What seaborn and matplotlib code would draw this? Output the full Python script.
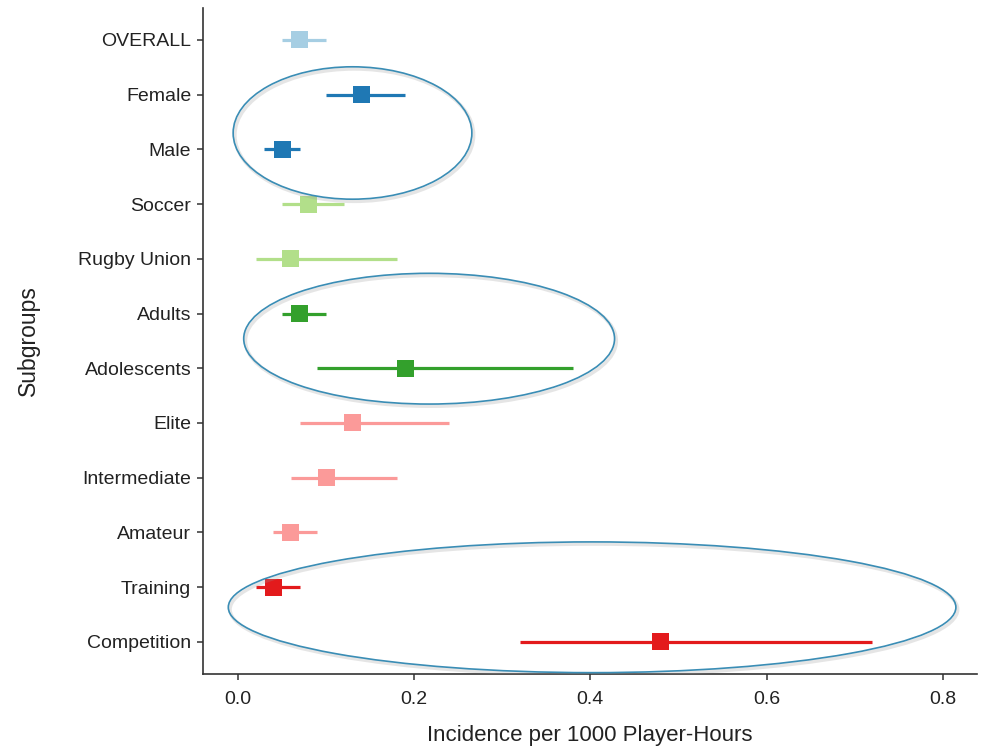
import matplotlib
matplotlib.use('Agg')
import matplotlib.pyplot as plt
from matplotlib.patches import Ellipse
import seaborn as sns
import pandas as pd
import numpy as np

subgroups = ['OVERALL', 'Female', 'Male', 'Soccer', 'Rugby Union', 'Adults',
             'Adolescents', 'Elite', 'Intermediate', 'Amateur', 'Training', 'Competition']
incidence = [0.07, 0.14, 0.05, 0.08, 0.06, 0.07, 0.19, 0.13, 0.10, 0.06, 0.04, 0.48]
ci_low = [0.05, 0.10, 0.03, 0.05, 0.02, 0.05, 0.09, 0.07, 0.06, 0.04, 0.02, 0.32]
ci_high = [0.10, 0.19, 0.07, 0.12, 0.18, 0.10, 0.38, 0.24, 0.18, 0.09, 0.07, 0.72]
grupo = ['Overall', 'Sex', 'Sex', 'Sport', 'Sport', 'Age', 'Age',
         'Level', 'Level', 'Level', 'Setting', 'Setting']
ordem_grupos = ['Overall', 'Sex', 'Sport', 'Age', 'Level', 'Setting']

# elipses de destaque (centro x, centro y, largura, altura) em unidades dos dados
elipses = [(0.130, 1.70, 0.271, 2.42),
           (0.217, 5.46, 0.421, 2.39),
           (0.402, 10.37, 0.826, 2.39)]

df = pd.DataFrame({'Subgroup': subgroups, 'Incidence': incidence,
                   'Low': ci_low, 'High': ci_high, 'Grupo': grupo})
df['pos'] = np.arange(len(df))

paleta = dict(zip(ordem_grupos, sns.color_palette('Paired', 6)))
cinza_escuro = '#333333'

sns.set_theme(style='ticks')
plt.rcParams['font.family'] = ['Liberation Sans', 'DejaVu Sans']

fig = plt.figure(figsize=(9.86, 7.5), dpi=100)
ax = fig.add_axes([0.2059, 0.1013, 0.785, 0.8887])

ax.hlines(df['pos'], df['Low'], df['High'],
          colors=[paleta[g] for g in df['Grupo']], linewidth=2.3, zorder=2)
sns.scatterplot(data=df, x='Incidence', y='pos', hue='Grupo', palette=paleta,
                marker='s', s=150, linewidth=0, legend=False, ax=ax, zorder=3)

for cx, cy, w, h in elipses:
    sombra = Ellipse((cx + 0.002, cy + 0.04), w, h, fill=False,
                     edgecolor='#999999', linewidth=2.5, alpha=0.25, zorder=4)
    ax.add_patch(sombra)
    ax.add_patch(Ellipse((cx, cy), w, h, fill=False, edgecolor='#3a8db5',
                         linewidth=1.2, zorder=5))

ax.set_xlim(-0.0397, 0.839)
ax.set_ylim(11.59, -0.594)
ax.set_yticks(df['pos'])
ax.set_yticklabels(df['Subgroup'])
ax.set_xticks([0.0, 0.2, 0.4, 0.6, 0.8])
ax.set_xticklabels(['0.0', '0.2', '0.4', '0.6', '0.8'])

sns.despine(ax=ax)
for lado in ['left', 'bottom']:
    ax.spines[lado].set_color(cinza_escuro)
    ax.spines[lado].set_linewidth(1.2)
ax.tick_params(axis='both', colors=cinza_escuro, length=4.5, width=1.1,
               labelsize=14, labelcolor='#222222', pad=4)
ax.tick_params(axis='x', pad=8)

ax.set_xlabel('Incidence per 1000 Player-Hours', fontsize=16, color='#222222', labelpad=12)
ax.set_ylabel('Subgroups', fontsize=16.5, color='#222222')
ax.yaxis.set_label_coords(-0.21, 0.5)

fig.savefig('out.png', dpi=100)
